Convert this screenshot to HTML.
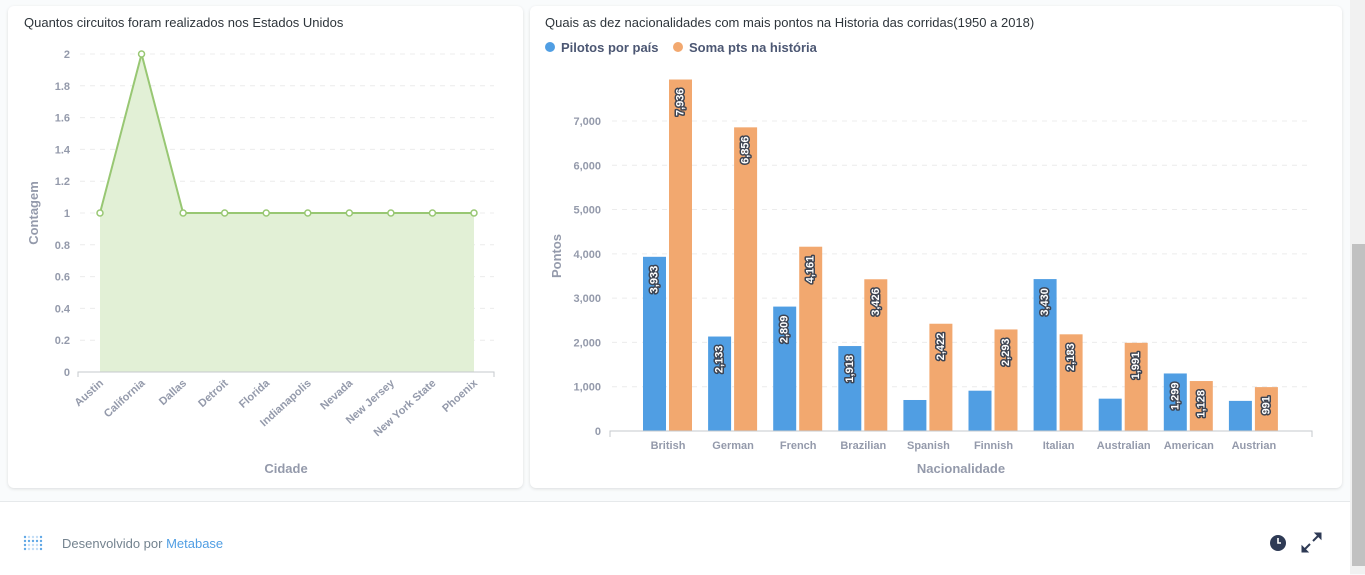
<!DOCTYPE html>
<html><head><meta charset="utf-8">
<style>
html,body{margin:0;padding:0;width:1365px;height:574px;overflow:hidden;background:#f9fbfc;font-family:"Liberation Sans",sans-serif}
.card{position:absolute;background:#fff;border-radius:6px;box-shadow:0 1px 3px rgba(0,0,0,0.12)}
.title{position:absolute;font-size:13px;color:#2e353b}
svg text{font-family:"Liberation Sans",sans-serif}
</style></head><body>
<div class="card" style="left:8px;top:6px;width:515px;height:482px"></div>
<div class="card" style="left:530px;top:6px;width:812px;height:482px"></div>
<div class="title" style="left:24px;top:15px">Quantos circuitos foram realizados nos Estados Unidos</div>
<div class="title" style="left:545px;top:15px">Quais as dez nacionalidades com mais pontos na Historia das corridas(1950 a 2018)</div>
<div style="position:absolute;left:0;top:501px;width:1350px;height:73px;background:#fff;border-top:1px solid #e6e9eb"></div>
<div style="position:absolute;left:1350px;top:0;width:15px;height:574px;background:#f1f1f1"></div>
<div style="position:absolute;left:1352px;top:244px;width:13px;height:322px;background:#c1c1c1"></div>
<svg width="1365" height="574" style="position:absolute;left:0;top:0" id="svg">
<g id="left"></g><g id="right"></g>
<g fill="#509ee3" id="logo"></g>
<text x="62" y="548" font-size="13" fill="#74838f">Desenvolvido por <tspan fill="#509ee3">Metabase</tspan></text>
<g><circle cx="1278" cy="543" r="8" fill="#2e3a55"/><path d="M1278 538v5h3" stroke="#fff" stroke-width="1.6" fill="none"/></g>
<g stroke="#2e3a55" stroke-width="2" fill="#2e3a55"><path d="M1305 549l5-5M1313 541l5-5"/><path d="M1302 552v-6l6 6z M1321 533v6l-6-6z" stroke-width="1"/></g>
</svg>
<script>
const cities=["Austin","California","Dallas","Detroit","Florida","Indianapolis","Nevada","New Jersey","New York State","Phoenix"];
const counts=[1,2,1,1,1,1,1,1,1,1];
const leftTicks=[0,0.2,0.4,0.6,0.8,1,1.2,1.4,1.6,1.8,2];
const nations=["British","German","French","Brazilian","Spanish","Finnish","Italian","Australian","American","Austrian"];
const pilots=[3933,2133,2809,1918,700,910,3430,730,1299,680];
const pilotsLabels=["3,933","2,133","2,809","1,918","","","3,430","","1,299",""];
const points=[7936,6856,4161,3426,2422,2293,2183,1991,1128,991];
const pointsLabels=["7,936","6,856","4,161","3,426","2,422","2,293","2,183","1,991","1,128","991"];
const rightTicks=[0,1000,2000,3000,4000,5000,6000,7000];
const rightTickLabels=["0","1,000","2,000","3,000","4,000","5,000","6,000","7,000"];

const NS="http://www.w3.org/2000/svg";
function mk(parent,tag,attrs,txt){const e=document.createElementNS(NS,tag);for(const k in attrs)e.setAttribute(k,attrs[k]);if(txt!==undefined)e.textContent=txt;parent.appendChild(e);return e;}
const L=document.getElementById('left');
const lx=i=>100+i*(374/(cities.length-1));
const ly=v=>372-v*159;
leftTicks.forEach(t=>{
  if(t>0){const g=mk(L,'line',{x1:80,x2:494,y1:ly(t),y2:ly(t),stroke:'#ececec','stroke-dasharray':'5,5'});
  }
  const tx=mk(L,'text',{x:70,y:ly(t)+4,'text-anchor':'end','font-size':11,'font-weight':'bold',fill:'#949aab'},String(t));
  
});
let d='M'+lx(0)+' '+ly(0);counts.forEach((v,i)=>d+=' L'+lx(i)+' '+ly(v));d+=' L'+lx(counts.length-1)+' '+ly(0)+'Z';
const area=mk(L,'path',{d:d,fill:'#e2f0d6'});

const line=mk(L,'polyline',{points:counts.map((v,i)=>lx(i)+','+ly(v)).join(' '),fill:'none',stroke:'#98c773','stroke-width':2});

const ax=mk(L,'path',{d:'M78 377V372H494V377',fill:'none',stroke:'#c5c9cd'});

counts.forEach((v,i)=>{
  const c=mk(L,'circle',{cx:lx(i),cy:ly(v),r:3,fill:'#fff',stroke:'#98c773','stroke-width':1.5});
  
  const t=mk(L,'text',{x:lx(i)+4,y:384,'text-anchor':'end','font-size':11,'font-weight':'bold',fill:'#949aab',transform:`rotate(-42 ${lx(i)+4} 384)`},cities[i]);
  
});
const yt=mk(L,'text',{x:38,y:213,'text-anchor':'middle','font-size':13,'font-weight':'bold',fill:'#949aab',transform:'rotate(-90 38 213)'},'Contagem');

const xt=mk(L,'text',{x:286,y:473,'text-anchor':'middle','font-size':13,'font-weight':'bold',fill:'#949aab'},'Cidade');

const R=document.getElementById('right');
const rx=i=>668+i*65.1;
const ry=v=>431-v*0.04429;
rightTicks.forEach((t,i)=>{
  if(t>0){const g=mk(R,'line',{x1:612,x2:1312,y1:ry(t),y2:ry(t),stroke:'#ececec','stroke-dasharray':'5,5'});
  }
  const tx=mk(R,'text',{x:601,y:ry(t)+4,'text-anchor':'end','font-size':11,'font-weight':'bold',fill:'#949aab'},rightTickLabels[i]);
  
});
function bar(x,v,color,label,name){
  const r=mk(R,'rect',{x:x,y:ry(v),width:23,height:431-ry(v),fill:color});
  
  if(label){const cx=x+11.5,cy=ry(v)+9;
    const t=mk(R,'text',{x:cx,y:cy,'text-anchor':'end','dominant-baseline':'central','font-size':11,'font-weight':'bold',fill:'#fff',stroke:'#3d4452','stroke-width':3,'stroke-linejoin':'round','paint-order':'stroke',transform:`rotate(-90 ${cx} ${cy})`},label);
    }
}
nations.forEach((n,i)=>{
  bar(rx(i)-25,pilots[i],'#509ee3',pilotsLabels[i],'pilots-bar');
  bar(rx(i)+1,points[i],'#f2a86f',pointsLabels[i],'points-bar');
  const t=mk(R,'text',{x:rx(i),y:449,'text-anchor':'middle','font-size':11,'font-weight':'bold',fill:'#949aab'},n);
  
});
const ax2=mk(R,'path',{d:'M610 437V431H1312V437',fill:'none',stroke:'#c5c9cd'});

const yt2=mk(R,'text',{x:561,y:256,'text-anchor':'middle','font-size':13,'font-weight':'bold',fill:'#949aab',transform:'rotate(-90 561 256)'},'Pontos');

const xt2=mk(R,'text',{x:961,y:473,'text-anchor':'middle','font-size':13,'font-weight':'bold',fill:'#949aab'},'Nacionalidade');

[['Pilotos por país','#509ee3',545],['Soma pts na história','#f2a86f',673]].forEach(([lab,c,x])=>{
  const ci=mk(R,'circle',{cx:x+5,cy:47,r:5,fill:c});
  
  const t=mk(R,'text',{x:x+16,y:52,'font-size':13,'font-weight':'bold',fill:'#4c5773'},lab);
  
});
const lg=document.getElementById('logo');
for(let r=0;r<4;r++)for(let c=0;c<5;c++){mk(lg,'circle',{cx:25+c*4,cy:537+r*4,r:1.2,opacity:(c==0||c==4||r==1)?0.9:0.35});}
</script>
</body></html>
